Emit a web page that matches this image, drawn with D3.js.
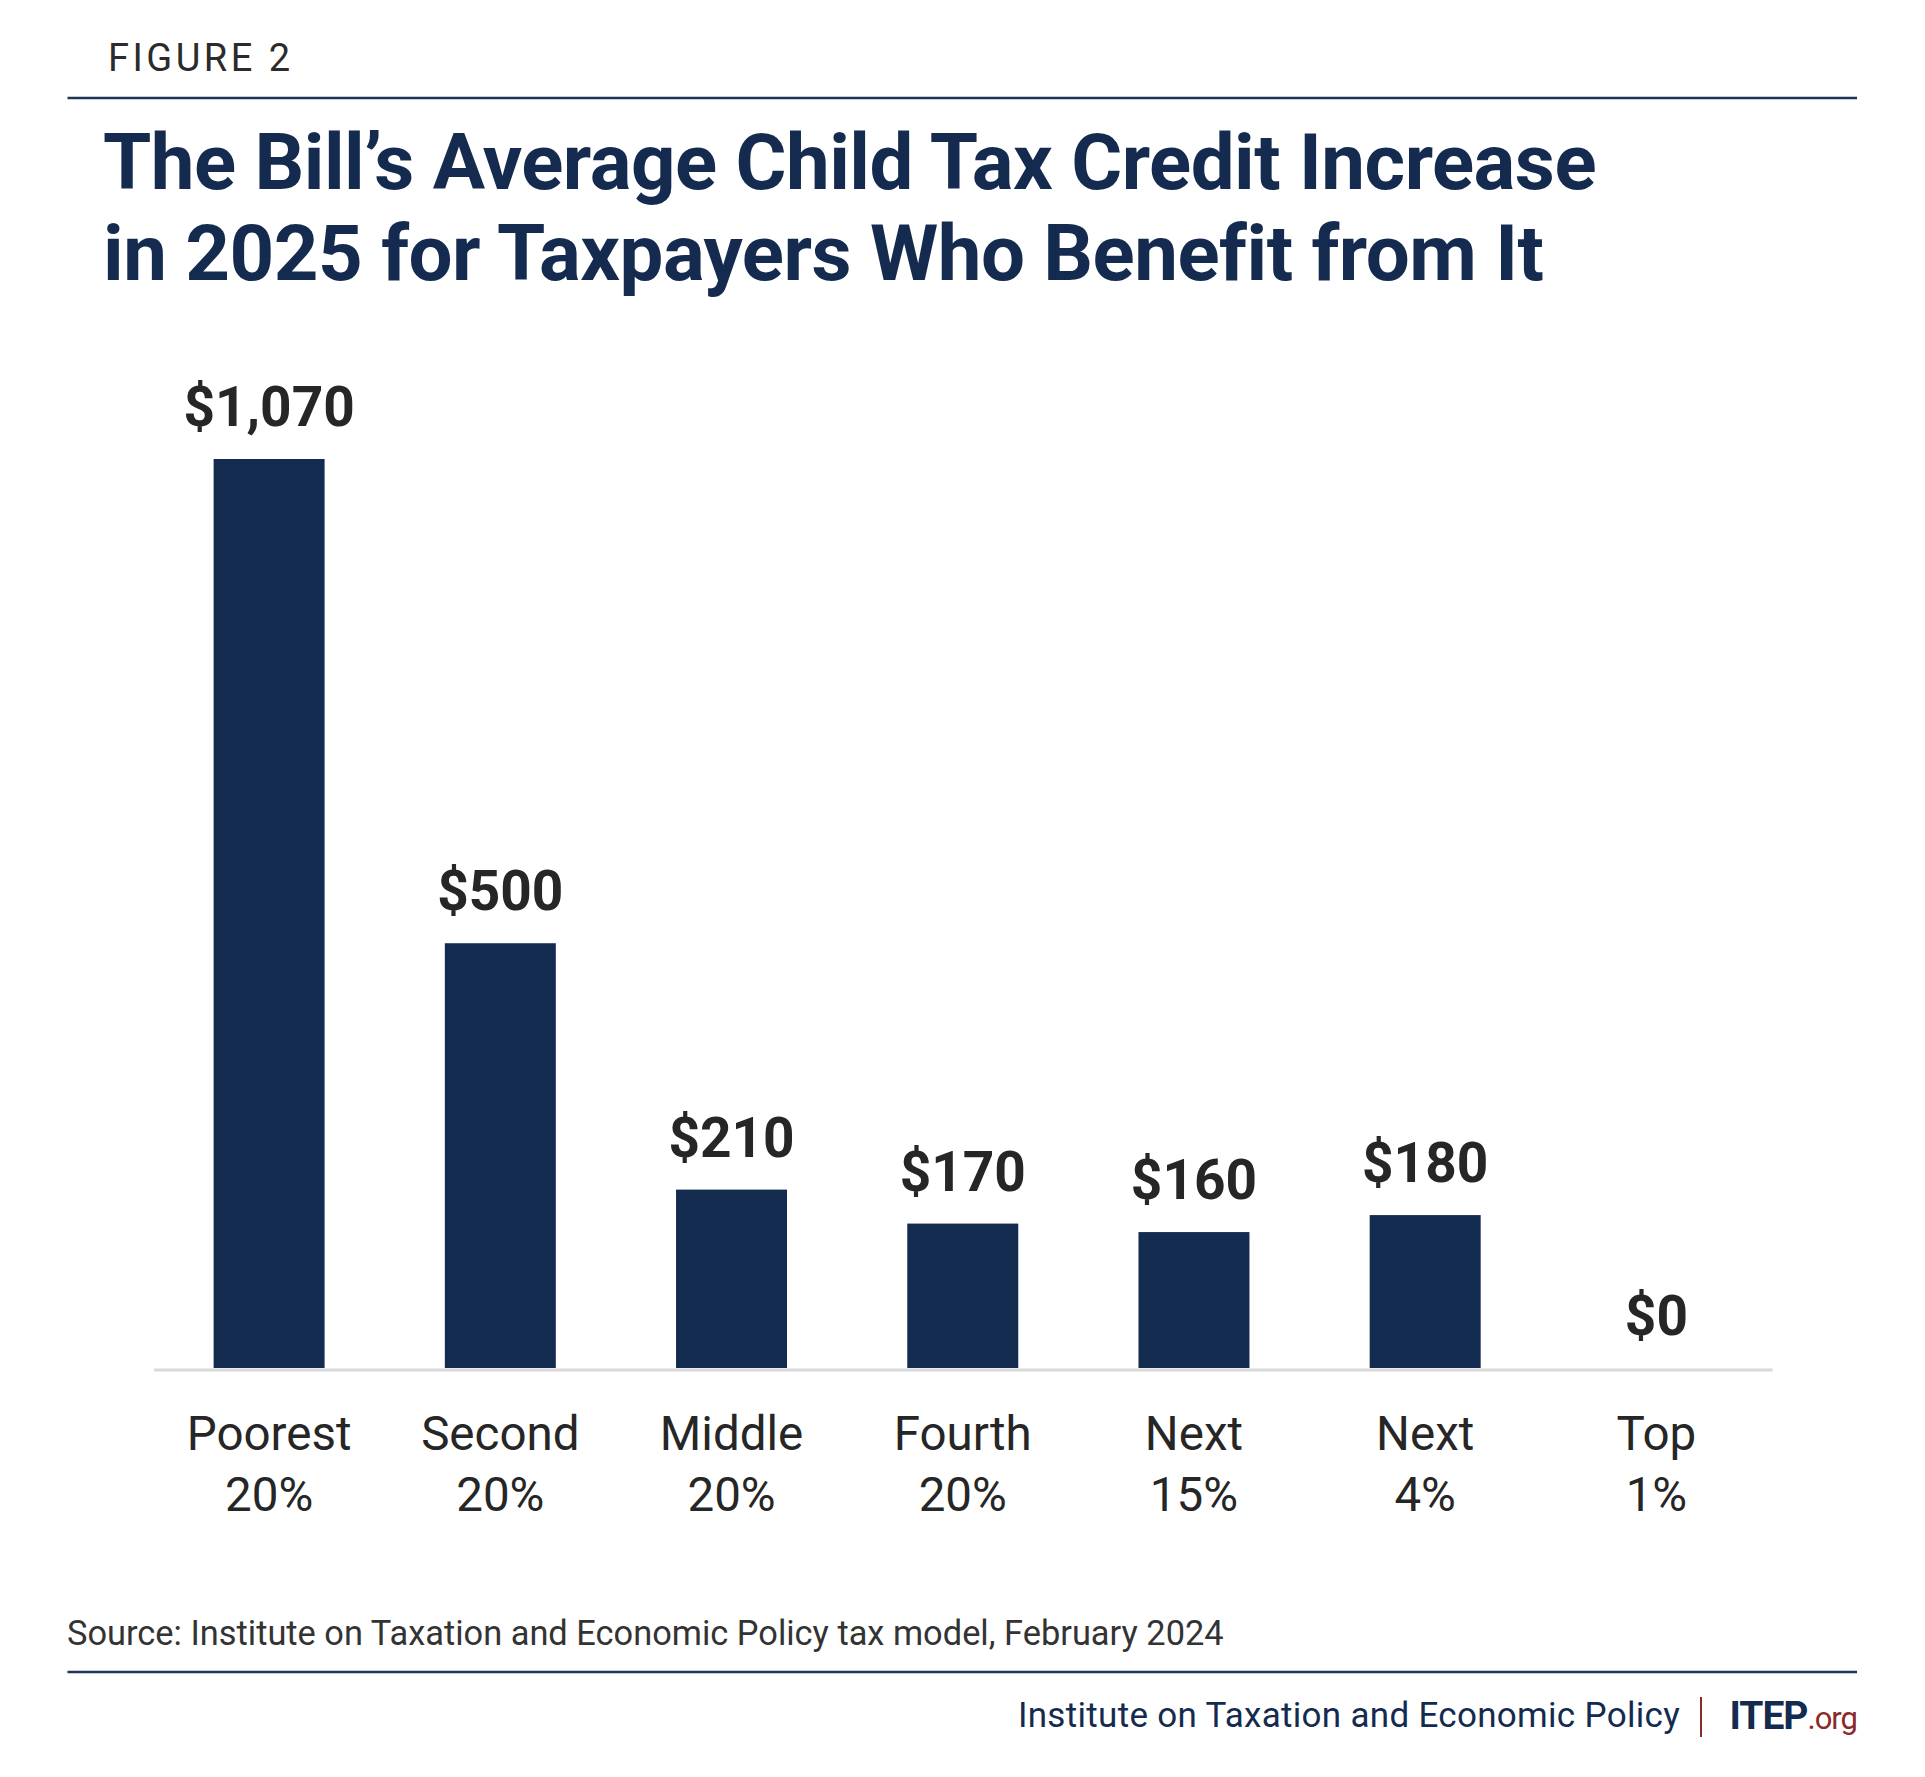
<!DOCTYPE html>
<html>
<head>
<meta charset="utf-8">
<script src="https://cdn.jsdelivr.net/npm/d3@7"></script>
<style>
  body { margin: 0; background: #fff; }
  text { font-family: Roboto, "Liberation Sans", sans-serif; }
</style>
</head>
<body>
<svg id="chart"></svg>
<script>
const groupTop = ["Poorest", "Second", "Middle", "Fourth", "Next", "Next", "Top"];
const groupBottom = ["20%", "20%", "20%", "20%", "15%", "4%", "1%"];
const creditIncrease = [1070, 500, 210, 170, 160, 180, 0];

const titleLines = [
    "The Bill\u2019s Average Child Tax Credit Increase",
    "in 2025 for Taxpayers Who Benefit from It"
];
const sourceText = "Source: Institute on Taxation and Economic Policy tax model, February 2024";

class CreditBars {
    margin = { top: 459, right: 153, bottom: 409, left: 153.5 }

    constructor(svg, width = 1925, height = 1777) {
        this.svg = svg;
        this.width = width;
        this.height = height;
    }

    initialize() {
        this.svg = d3.select(this.svg)
            .attr("width", this.width)
            .attr("height", this.height);

        this.innerW = this.width - this.margin.left - this.margin.right;
        this.innerH = this.height - this.margin.top - this.margin.bottom;

        this.container = this.svg.append("g")
            .attr("transform", `translate(${this.margin.left}, ${this.margin.top})`);
        this.xAxis = this.container.append("g");

        this.xScale = d3.scaleBand();
        this.yScale = d3.scaleLinear();
    }

    update(values) {
        const keys = values.map((d, i) => i);
        this.xScale.domain(keys).range([0, this.innerW]).paddingInner(0.52).paddingOuter(0.26);
        this.yScale.domain([0, d3.max(values)]).range([this.innerH, 0]);

        this.container.selectAll("rect.bar")
            .data(values)
            .join("rect")
            .attr("class", "bar")
            .attr("x", (d, i) => this.xScale(i))
            .attr("y", d => this.yScale(d))
            .attr("width", this.xScale.bandwidth())
            .attr("height", d => this.innerH - this.yScale(d))
            .attr("fill", "#132b4f");

        this.container.selectAll("text.value")
            .data(values)
            .join("text")
            .attr("class", "value")
            .attr("x", (d, i) => this.xScale(i) + this.xScale.bandwidth() / 2)
            .attr("y", d => this.yScale(d) - 33)
            .attr("text-anchor", "middle")
            .attr("font-size", "55px")
            .attr("font-weight", 700)
            .attr("fill", "#262626")
            .text(d => d3.format("$,")(d));

        // gray baseline = axis domain, labels in two lines
        this.xAxis
            .attr("transform", `translate(0, ${this.innerH + 1.5})`)
            .call(d3.axisBottom(this.xScale).tickSize(0).tickSizeOuter(0).tickFormat(""));
        this.xAxis.select(".domain").attr("stroke", "#d9d9d9").attr("stroke-width", 3);

        const ticks = this.xAxis.selectAll(".tick text")
            .attr("y", 0).attr("dy", null)
            .attr("font-size", "47.5px")
            .attr("font-family", "Roboto, sans-serif")
            .attr("fill", "#262626");
        ticks.append("tspan").attr("x", 0).attr("y", 80).text(i => groupTop[i]);
        ticks.append("tspan").attr("x", 0).attr("y", 141).text(i => groupBottom[i]);
    }

    addFrame() {
        const navy = "#142b4f";
        this.svg.append("text")
            .attr("x", 108).attr("y", 71)
            .attr("font-family", "'Open Sans', sans-serif")
            .attr("font-size", "38px")
            .attr("letter-spacing", "3.5px")
            .attr("fill", "#2b2b2b")
            .text("FIGURE 2");

        this.svg.append("line")
            .attr("x1", 67.5).attr("x2", 1857).attr("y1", 98).attr("y2", 98)
            .attr("stroke", "#1f3659").attr("stroke-width", 2.5);

        this.svg.selectAll("text.title")
            .data(titleLines)
            .join("text")
            .attr("class", "title")
            .attr("x", 103)
            .attr("y", (d, i) => 189 + i * 91)
            .attr("font-size", "78px")
            .attr("font-weight", 700)
            .attr("letter-spacing", "-0.5px")
            .attr("fill", navy)
            .text(d => d);

        this.svg.append("text")
            .attr("x", 67).attr("y", 1645)
            .attr("font-family", "'Open Sans', sans-serif")
            .attr("font-size", "34.4px")
            .attr("fill", "#333333")
            .text(sourceText);

        this.svg.append("line")
            .attr("x1", 67.5).attr("x2", 1857).attr("y1", 1672).attr("y2", 1672)
            .attr("stroke", "#1f3659").attr("stroke-width", 2.5);

        this.svg.append("text")
            .attr("x", 1680).attr("y", 1727)
            .attr("text-anchor", "end")
            .attr("font-family", "'Open Sans', sans-serif")
            .attr("font-size", "35px")
            .attr("letter-spacing", "0.3px")
            .attr("fill", navy)
            .text("Institute on Taxation and Economic Policy");

        this.svg.append("line")
            .attr("x1", 1701).attr("x2", 1701).attr("y1", 1697).attr("y2", 1737)
            .attr("stroke", "#8b2a2a").attr("stroke-width", 2);

        const logo = this.svg.append("text")
            .attr("x", 1857).attr("y", 1729)
            .attr("text-anchor", "end")
            .attr("font-family", "'Open Sans', sans-serif")
            .attr("font-size", "39px");
        logo.append("tspan").attr("font-weight", 700).attr("fill", navy).attr("letter-spacing", "-1px").text("ITEP");
        logo.append("tspan").attr("fill", "#8b2a2a").attr("font-size", "31px").attr("letter-spacing", "-1px").text(".org");
    }
}

const chart = new CreditBars(document.getElementById("chart"));
chart.initialize();
chart.update(creditIncrease);
chart.addFrame();
</script>
</body>
</html>
